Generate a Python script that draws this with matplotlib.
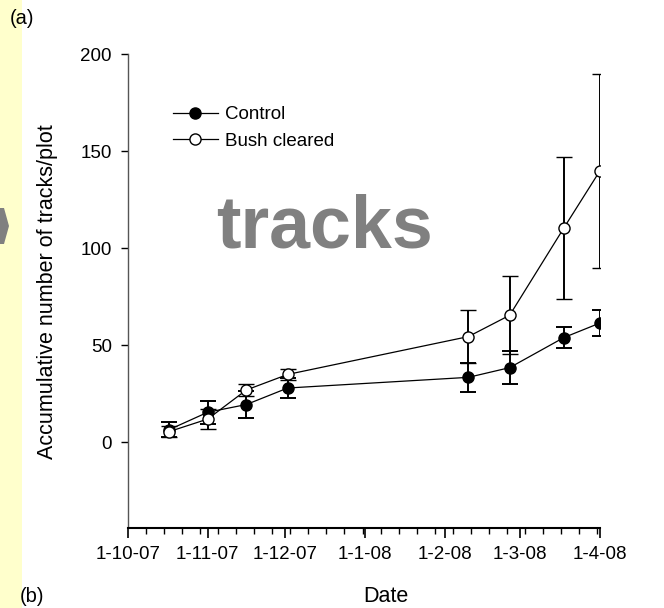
import matplotlib
matplotlib.use('Agg')
import matplotlib.pyplot as plt
import matplotlib.patches as mpatches
from matplotlib.lines import Line2D
import pandas as pd

plt.rcParams['font.family'] = ['Liberation Sans', 'DejaVu Sans']

# Data
dates = pd.to_datetime(['2007-10-17', '2007-11-01', '2007-11-16', '2007-12-02',
                        '2008-02-10', '2008-02-26', '2008-03-18', '2008-04-01'])
control = [6.5, 15.5, 19.5, 28, 33.5, 38.5, 54, 61.5]
control_err = [4, 6, 7, 5, 7.5, 8.5, 5.3, 6.7]
bush = [5.5, 12, 27, 35, 54.5, 65.5, 110.5, 140]
bush_err = [3, 5, 3, 3, 13.5, 20, 36.5, 50]
month_ticks = pd.to_datetime(['2007-10-01', '2007-11-01', '2007-12-01', '2008-01-01',
                              '2008-02-01', '2008-03-01', '2008-04-01'])
month_labels = ['1-10-07', '1-11-07', '1-12-07', '1-1-08', '1-2-08', '1-3-08', '1-4-08']

fig = plt.figure(figsize=(6.64, 6.08), dpi=100)

# pale yellow strip on the left edge with a small gray arrow
fig.patches.append(mpatches.Rectangle((0, 0), 22 / 664, 1, transform=fig.transFigure,
                                      facecolor='#ffffcc', edgecolor='none', zorder=0))
fig.patches.append(mpatches.Polygon([(0, 1 - 208 / 608), (4 / 664, 1 - 208 / 608),
                                     (9 / 664, 1 - 226 / 608), (4 / 664, 1 - 244 / 608),
                                     (0, 1 - 244 / 608)],
                                    closed=True, transform=fig.transFigure,
                                    facecolor='#808080', edgecolor='none', zorder=1))

ax = fig.add_axes([0.1923, 0.1311, 0.7113, 0.7796])

# Plot error bars and lines
ax.errorbar(dates, control, yerr=control_err, color='black', marker='o', markersize=8,
            markerfacecolor='black', markeredgecolor='black', linewidth=0.9,
            elinewidth=1.4, capsize=5.5, capthick=1.4, zorder=3)
ax.errorbar(dates, bush, yerr=bush_err, color='black', marker='o', markersize=8,
            markerfacecolor='white', markeredgecolor='black', markeredgewidth=1.0,
            linewidth=0.9, elinewidth=1.4, capsize=5.5, capthick=1.4, zorder=4)

ax.set_xlim(month_ticks[0], month_ticks[-1])
ax.set_ylim(-44.3, 200)
ax.set_xticks(month_ticks)
ax.set_xticklabels(month_labels, fontsize=13.5)
weekly = pd.date_range('2007-10-01', '2008-04-01', freq='7D')
ax.set_xticks(weekly, minor=True)
ax.set_yticks([0, 50, 100, 150, 200])
ax.tick_params(axis='y', labelsize=13.5, direction='out', length=5, width=1, pad=6.5)
ax.tick_params(axis='x', which='major', direction='out', length=7, width=1.2, pad=5.5)
ax.tick_params(axis='x', which='minor', direction='out', length=4, width=1)

ax.spines['top'].set_visible(False)
ax.spines['right'].set_visible(False)
ax.spines['left'].set_color('#555555')
ax.spines['left'].set_linewidth(1)
ax.spines['bottom'].set_linewidth(1.5)

ax.set_xlabel('Date', fontsize=15.5, labelpad=17)
ax.xaxis.label.set_x(0.547)
ax.set_ylabel('Accumulative number of tracks/plot', fontsize=15.5, labelpad=16)

handles = [Line2D([], [], color='black', linewidth=0.9, marker='o', markersize=8,
                  markerfacecolor='black', markeredgecolor='black'),
           Line2D([], [], color='black', linewidth=0.9, marker='o', markersize=8,
                  markerfacecolor='white', markeredgecolor='black')]
ax.legend(handles, ['Control', 'Bush cleared'], loc='upper left',
          bbox_to_anchor=(0.068, 0.918), frameon=False, fontsize=13.5,
          handlelength=2.4, handletextpad=0.4, labelspacing=0.5, borderpad=0.2)

ax.text(0.416, 0.633, 'tracks', transform=ax.transAxes, fontsize=53, fontweight='bold',
        color='#808080', ha='center', va='center')

fig.text(10 / 664, 1 - 18 / 608, '(a)', fontsize=14.5, va='center')
fig.text(20 / 664, 1 - 597 / 608, '(b)', fontsize=14.5, va='center')

plt.savefig('out.png', dpi=100)
